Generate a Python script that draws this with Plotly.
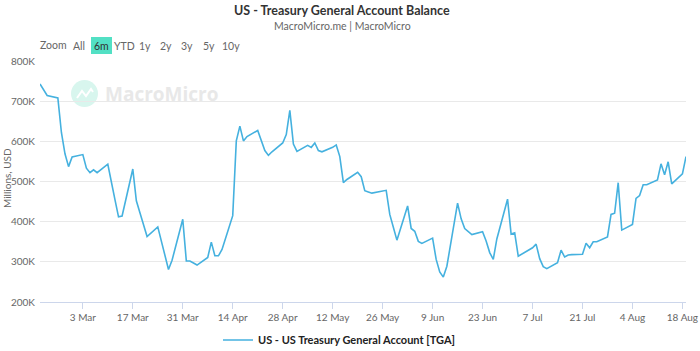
import plotly.graph_objects as go

# ---------------- data ----------------
dates = [
    "2025-02-19", "2025-02-20", "2025-02-21", "2025-02-24", "2025-02-25", "2025-02-26", "2025-02-27", "2025-02-28",
    "2025-03-03", "2025-03-04", "2025-03-05", "2025-03-06", "2025-03-07",
    "2025-03-10", "2025-03-11", "2025-03-12", "2025-03-13", "2025-03-14",
    "2025-03-17", "2025-03-18", "2025-03-19", "2025-03-20", "2025-03-21",
    "2025-03-24", "2025-03-25", "2025-03-26", "2025-03-27", "2025-03-28",
    "2025-03-31", "2025-04-01", "2025-04-02", "2025-04-03", "2025-04-04",
    "2025-04-07", "2025-04-08", "2025-04-09", "2025-04-10", "2025-04-11",
    "2025-04-14", "2025-04-15", "2025-04-16", "2025-04-17", "2025-04-18",
    "2025-04-21", "2025-04-22", "2025-04-23", "2025-04-24", "2025-04-25",
    "2025-04-28", "2025-04-29", "2025-04-30", "2025-05-01", "2025-05-02",
    "2025-05-05", "2025-05-06", "2025-05-07", "2025-05-08", "2025-05-09",
    "2025-05-12", "2025-05-13", "2025-05-14", "2025-05-15", "2025-05-16",
    "2025-05-19", "2025-05-20", "2025-05-21", "2025-05-22", "2025-05-23",
    "2025-05-27", "2025-05-28", "2025-05-29", "2025-05-30",
    "2025-06-02", "2025-06-03", "2025-06-04", "2025-06-05", "2025-06-06",
    "2025-06-09", "2025-06-10", "2025-06-11", "2025-06-12", "2025-06-13",
    "2025-06-16", "2025-06-17", "2025-06-18", "2025-06-20",
    "2025-06-23", "2025-06-24", "2025-06-25", "2025-06-26", "2025-06-27",
    "2025-06-30", "2025-07-01", "2025-07-02", "2025-07-03",
    "2025-07-07", "2025-07-08", "2025-07-09", "2025-07-10", "2025-07-11",
    "2025-07-14", "2025-07-15", "2025-07-16", "2025-07-17", "2025-07-18",
    "2025-07-21", "2025-07-22", "2025-07-23", "2025-07-24", "2025-07-25",
    "2025-07-28", "2025-07-29", "2025-07-30", "2025-07-31", "2025-08-01",
    "2025-08-04", "2025-08-05", "2025-08-06", "2025-08-07", "2025-08-08",
    "2025-08-11", "2025-08-12", "2025-08-13", "2025-08-14", "2025-08-15",
    "2025-08-18", "2025-08-19",
]

# Treasury General Account balance, millions USD
tga_balance = [
    743000, 728000, 714000, 708000, 622000, 569000, 537000, 561000,
    567000, 533000, 522000, 529000, 522000,
    543000, 495000, 455000, 412000, 414000,
    531000, 452000, 422000, 390000, 363000,
    387000, 352000, 316000, 281000, 304000,
    406000, 302000, 302000, 297000, 292000,
    311000, 349000, 315000, 315000, 331000,
    415000, 601000, 638000, 601000, 612000,
    627000, 604000, 577000, 565000, 574000,
    596000, 617000, 677000, 593000, 575000,
    590000, 585000, 596000, 577000, 574000,
    585000, 591000, 562000, 497000, 505000,
    523000, 512000, 477000, 474000, 471000,
    478000, 418000, 386000, 354000,
    439000, 383000, 376000, 351000, 346000,
    359000, 306000, 275000, 262000, 289000,
    446000, 407000, 383000, 368000,
    375000, 352000, 323000, 306000, 357000,
    456000, 369000, 372000, 314000,
    335000, 344000, 308000, 288000, 283000,
    298000, 329000, 312000, 317000, 318000,
    319000, 346000, 335000, 350000, 350000,
    362000, 418000, 421000, 497000, 379000,
    393000, 458000, 465000, 492000, 492000,
    504000, 544000, 517000, 549000, 494000,
    519000, 562000,
]

series_name = "US - US Treasury General Account [TGA]"

x_tick_dates = ["2025-03-03", "2025-03-17", "2025-03-31", "2025-04-14", "2025-04-28", "2025-05-12",
                "2025-05-26", "2025-06-09", "2025-06-23", "2025-07-07", "2025-07-21", "2025-08-04",
                "2025-08-18"]
x_tick_labels = ["3 Mar", "17 Mar", "31 Mar", "14 Apr", "28 Apr", "12 May", "26 May", "9 Jun",
                 "23 Jun", "7 Jul", "21 Jul", "4 Aug", "18 Aug"]
y_tick_values = [200000, 300000, 400000, 500000, 600000, 700000, 800000]
y_tick_labels = ["200K", "300K", "400K", "500K", "600K", "700K", "800K"]

zoom_buttons = ["All", "6m", "YTD", "1y", "2y", "3y", "5y", "10y"]
active_button = "6m"

# ---------------- layout helpers ----------------
W, H = 700, 351
ML, MR, MT, MB = 40, 14, 61, 49
PW, PH = W - ML - MR, H - MT - MB


def px(x):
    return (x - ML) / PW


def py(y):
    return (H - MB - y) / PH


FONT = "Lato, Liberation Sans, Arial, sans-serif"
LINE_COLOR = "#45b1df"

fig = go.Figure()
fig.add_trace(go.Scatter(
    x=dates, y=tga_balance, mode="lines", name="<b>" + series_name + "</b>",
    line=dict(color=LINE_COLOR, width=1.6),
    hovertemplate="%{x|%Y-%m-%d}<br>%{y:,.0f}<extra></extra>",
))

annotations = [
    dict(text="<b>US - Treasury General Account Balance</b>", x=px(342), y=py(10),
         font=dict(size=12.5, color="#333333", family=FONT)),
    dict(text="MacroMicro.me | MacroMicro", x=px(342), y=py(26),
         font=dict(size=10.5, color="#666666", family=FONT)),
    dict(text="Zoom", x=px(53), y=py(45), font=dict(size=10.5, color="#666666", family=FONT)),
    dict(text="Millions, USD", x=px(7), y=py(178), textangle=-90,
         font=dict(size=10, color="#666666", family=FONT)),
    dict(text="<b>MacroMicro</b>", x=px(103), y=py(94), xanchor="left",
         font=dict(size=19, color="#e8e8e8", family="Open Sans, sans-serif")),
]

button_centers = [79, 101.5, 124, 145, 166, 187, 209, 231]
shapes = []
for label, cx in zip(zoom_buttons, button_centers):
    active = label == active_button
    if active:
        shapes.append(dict(type="rect", xref="paper", yref="paper",
                           x0=px(cx - 10.5), x1=px(cx + 10.5), y0=py(54), y1=py(37),
                           fillcolor="#52e0c4", line=dict(width=0), layer="above"))
    annotations.append(dict(
        text=label, x=px(cx), y=py(45.5),
        font=dict(size=10.5, color="#333333" if active else "#666666", family=FONT),
    ))

for a in annotations:
    a.setdefault("xref", "paper")
    a.setdefault("yref", "paper")
    a.setdefault("showarrow", False)
    a.setdefault("xanchor", "center")
    a.setdefault("yanchor", "middle")

shapes += [
    # watermark logo circle
    dict(type="circle", xref="paper", yref="paper",
         x0=px(71), x1=px(98), y0=py(107), y1=py(80),
         fillcolor="#d8f6ee", line=dict(width=0), layer="below"),
    dict(type="path", xref="paper", yref="paper",
         path=f"M {px(77)} {py(98)} L {px(82)} {py(91)} L {px(86)} {py(96)} L {px(91)} {py(89)} L {px(93)} {py(92)}",
         line=dict(color="white", width=2), layer="below"),
]

fig.update_layout(
    width=W, height=H,
    margin=dict(l=ML, r=MR, t=MT, b=MB, autoexpand=False),
    paper_bgcolor="white", plot_bgcolor="white",
    font=dict(family=FONT, size=10, color="#666666"),
    showlegend=True,
    legend=dict(orientation="h", x=px(218), xanchor="left", y=py(340), yanchor="middle",
                font=dict(size=11, color="#222222", family=FONT), itemwidth=30,
                bgcolor="rgba(0,0,0,0)"),
    annotations=annotations,
    shapes=shapes,
    hovermode="x",
)

fig.update_xaxes(
    type="date", range=[dates[0], dates[-1]],
    tickvals=x_tick_dates, ticktext=x_tick_labels,
    showgrid=False, showline=True, linecolor="#ccd6eb", linewidth=1,
    ticks="outside", ticklen=6, tickcolor="#ccd6eb",
    tickfont=dict(size=10, color="#666666", family=FONT),
    zeroline=False,
)
fig.update_yaxes(
    range=[200000, 800000],
    tickvals=y_tick_values, ticktext=y_tick_labels,
    showgrid=True, gridcolor="#e9e9e9", gridwidth=1,
    tickfont=dict(size=10, color="#666666", family=FONT),
    zeroline=False, showline=False, ticks="", ticklabelstandoff=4,
)

fig.write_html("out.html")
